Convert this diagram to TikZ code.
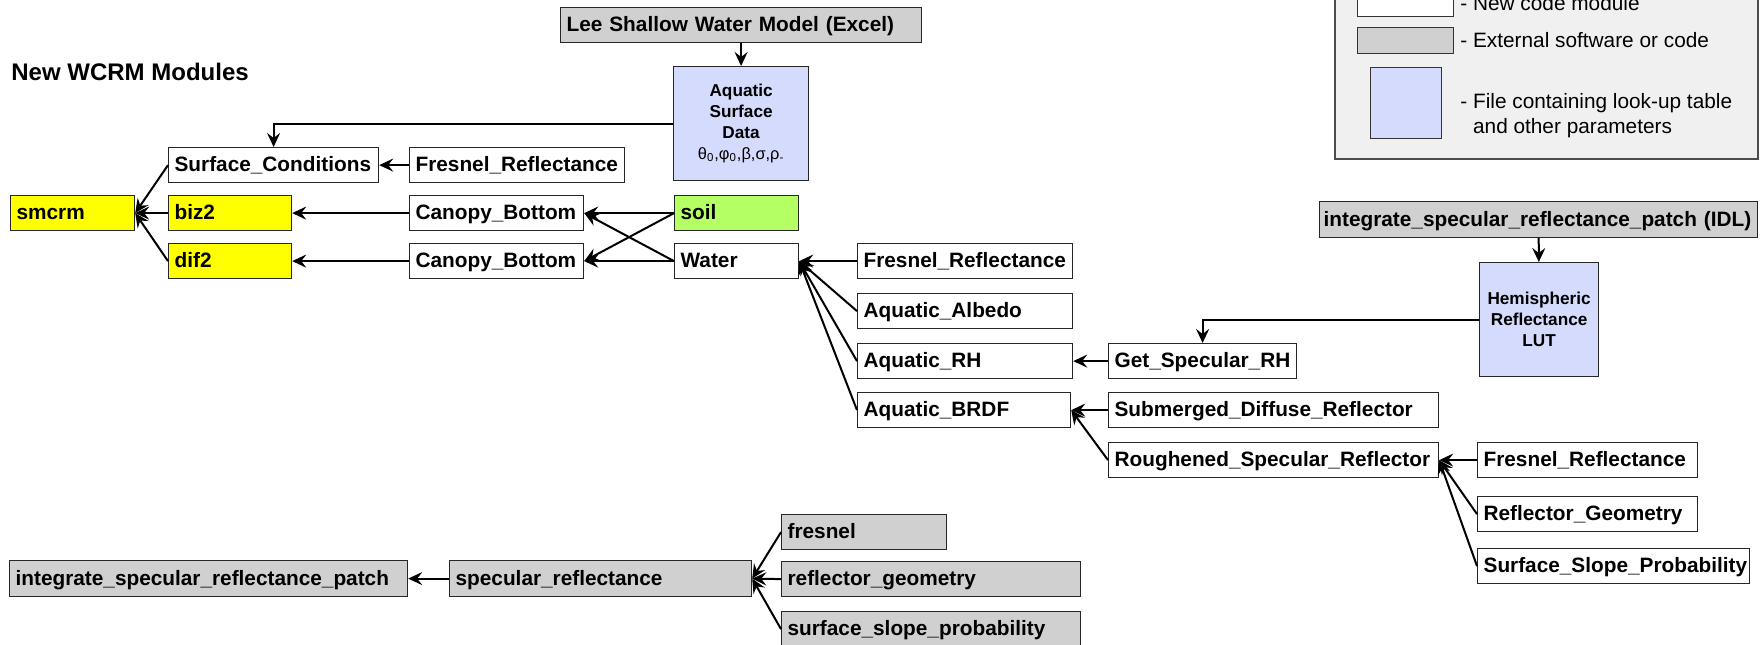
\documentclass[tikz,border=0pt]{standalone}
\usepackage{fontspec}
\setmainfont{Liberation Sans}
\usetikzlibrary{arrows.meta}
\usetikzlibrary{positioning}

\definecolor{extgray}{RGB}{208,208,208}
\definecolor{wcrmyellow}{RGB}{255,255,0}
\definecolor{soilgreen}{RGB}{180,255,100}
\definecolor{lutblue}{RGB}{213,219,252}
\definecolor{keybg}{RGB}{240,240,240}

\tikzset{
  module/.style={draw=black!85, line width=0.6pt, rectangle, anchor=north west,
    minimum height=17.5pt, inner xsep=3pt, inner ysep=0pt, align=left,
    text height=8.2pt, text depth=1.8pt, font=\bfseries\fontsize{10.4}{12}\selectfont},
  newmod/.style={module, fill=white},
  extmod/.style={module, fill=extgray},
  wcrm/.style={module, fill=wcrmyellow},
  soilmod/.style={module, fill=soilgreen},
  lut/.style={draw=black!85, line width=0.6pt, fill=lutblue, anchor=north west,
    inner sep=0pt, align=center, font=\bfseries\fontsize{8.6}{10.4}\selectfont},
  feed/.style={-{Stealth[length=7pt,width=6.5pt,inset=2.5pt]}, line width=1pt},
  keytext/.style={anchor=west, align=left, inner sep=0pt, font=\fontsize{10.4}{12.5}\selectfont},
}

\begin{document}
\begin{tikzpicture}[x=0.5pt, y=-0.5pt]
    \useasboundingbox (0,0) rectangle (1764,644);

    % legend
    \draw[draw=black!70, line width=0.6pt, fill=keybg] (1335,-20) rectangle (1758,159);
    \node[draw=black!80, line width=0.6pt, fill=white, anchor=north west, minimum width=48pt, minimum height=13pt, inner sep=0pt] (keynew) at (1357,-10) {};
    \node[draw=black!80, line width=0.6pt, fill=extgray, anchor=north west, minimum width=48pt, minimum height=13pt, inner sep=0pt] (keyext) at (1357,27) {};
    \node[draw=black!80, line width=0.6pt, fill=lutblue, anchor=north west, minimum width=35.5pt, minimum height=35.5pt, inner sep=0pt] (keylut) at (1370,67) {};
    \node[keytext] (keynewtxt) at (1460,3) {- New code module};
    \node[keytext] (keyexttxt) at (1460,40) {- External software or code};
    \node[keytext] (keyluttxt) at (1460,115.5) {- File containing look-up table\\\hphantom{- }and other parameters};

    % WCRM modules
    \node[anchor=west, inner sep=0pt, font=\bfseries\fontsize{12}{14}\selectfont] (title) at (11,72) {New WCRM Modules};

    \node[extmod, text width=174.5pt] (lee) at (560,7) {Lee Shallow Water Model (Excel)};
    \node[lut, minimum width=67.5pt, minimum height=57pt] (aqua) at (673,66) {Aquatic\\Surface\\Data\\{\mdseries\fontsize{8.2}{10.4}\selectfont θ\textsubscript{0},φ\textsubscript{0},β,σ,ρ\textsubscript{-}}};

    \node[newmod, text width=99pt] (sc) at (168,147) {Surface\_Conditions};
    \node[newmod, text width=101.5pt] (frsc) at (409,147) {Fresnel\_Reflectance};
    \node[wcrm, text width=56pt] (smcrm) at (10,195) {smcrm};
    \node[wcrm, text width=55.5pt] (biz2) at (168,195) {biz2};
    \node[wcrm, text width=55.5pt] (dif2) at (168,243) {dif2};
    \node[newmod, text width=81pt] (cbbiz) at (409,195) {Canopy\_Bottom};
    \node[newmod, text width=81pt] (cbdif) at (409,243) {Canopy\_Bottom};
    \node[soilmod, text width=56pt] (soil) at (674,195) {soil};
    \node[newmod, text width=56pt] (water) at (674,243) {Water};

    \node[newmod, text width=101.5pt] (frwater) at (857,243) {Fresnel\_Reflectance};
    \node[newmod, text width=101.5pt] (albedo) at (857,293) {Aquatic\_Albedo};
    \node[newmod, text width=101.5pt] (rh) at (857,343) {Aquatic\_RH};
    \node[newmod, text width=100.5pt] (brdf) at (857,392) {Aquatic\_BRDF};
    \node[newmod, text width=88pt] (getrh) at (1108,343) {Get\_Specular\_RH};
    \node[newmod, text width=159pt] (subm) at (1108,392) {Submerged\_Diffuse\_Reflector};
    \node[newmod, text width=159pt] (rough) at (1108,442) {Roughened\_Specular\_Reflector};
    \node[newmod, text width=104pt] (frrough) at (1477,442) {Fresnel\_Reflectance};
    \node[newmod, text width=104pt] (geom) at (1477,496) {Reflector\_Geometry};
    \node[newmod, text width=130pt] (slope) at (1477,548) {Surface\_Slope\_Probability};

    \node[extmod, text width=215pt, inner xsep=2pt, minimum height=18pt] (idl) at (1319,201) {integrate\_specular\_reflectance\_patch (IDL)};
    \node[lut, minimum width=59.5pt, minimum height=57pt] (hemi) at (1479,262) {Hemispheric\\Reflectance\\LUT};

    % external IDL code
    \node[extmod, text width=193pt, minimum height=18pt] (patch) at (9,560) {integrate\_specular\_reflectance\_patch};
    \node[extmod, text width=145pt, minimum height=18pt] (spec) at (449,560) {specular\_reflectance};
    \node[extmod, text width=76.5pt] (fresnel) at (781,514) {fresnel};
    \node[extmod, text width=143.5pt] (refgeom) at (781,561) {reflector\_geometry};
    \node[extmod, text width=143.5pt] (slopeprob) at (781,611) {surface\_slope\_probability};

    \draw[feed] (lee) -- (aqua);
    \draw[feed] (aqua.west) -| (sc.north);
    \draw[feed] (frsc) -- (sc);
    \draw[feed] (sc.west) -- (smcrm.east);
    \draw[feed] (biz2) -- (smcrm);
    \draw[feed] (dif2.west) -- (smcrm.east);
    \draw[feed] (cbbiz) -- (biz2);
    \draw[feed] (cbdif) -- (dif2);
    \foreach \src in {soil, water} {
        \draw[feed] (\src.west) -- (cbbiz.east);
        \draw[feed] (\src.west) -- (cbdif.east);
    }
    \foreach \src in {frwater, albedo, rh, brdf}
        \draw[feed] (\src.west) -- (water.east);
    \draw[feed] (getrh) -- (rh);
    \draw[feed] (idl) -- (hemi);
    \draw[feed] (hemi.west) -| (getrh.north);
    \foreach \src in {subm, rough}
        \draw[feed] (\src.west) -- (brdf.east);
    \foreach \src in {frrough, geom, slope}
        \draw[feed] (\src.west) -- (rough.east);
    \draw[feed] (spec) -- (patch);
    \foreach \src in {fresnel, refgeom, slopeprob}
        \draw[feed] (\src.west) -- (spec.east);
\end{tikzpicture}
\end{document}
